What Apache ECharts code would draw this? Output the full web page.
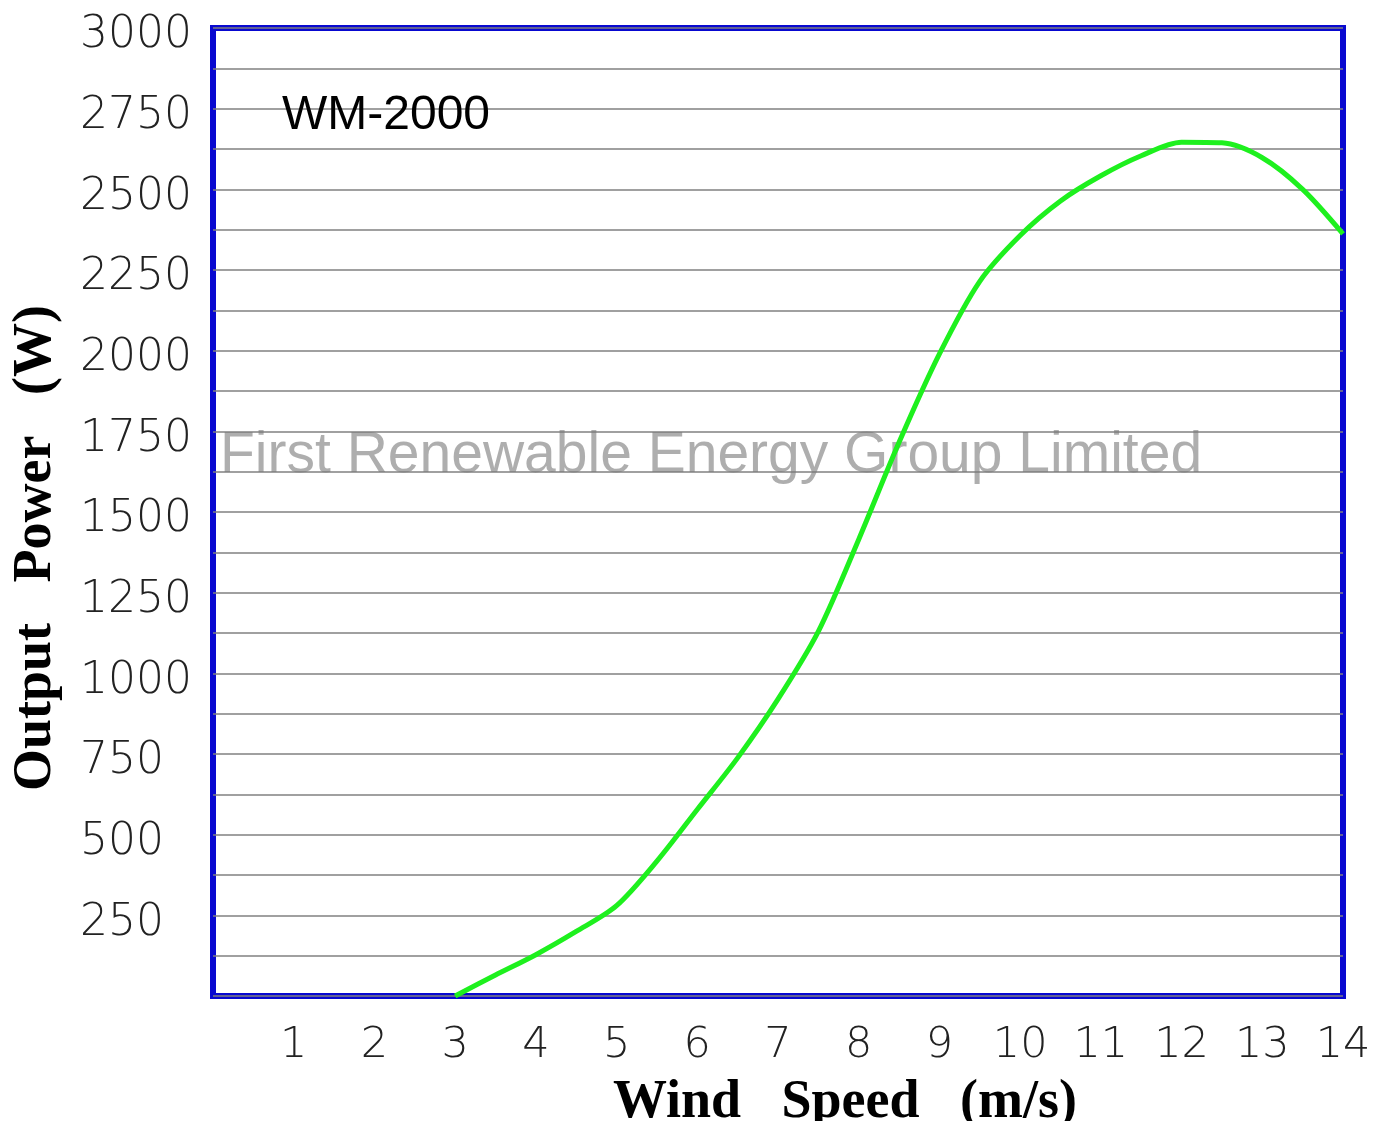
<!DOCTYPE html>
<html>
<head>
<meta charset="utf-8">
<title>WM-2000 power curve</title>
<script src="https://cdn.jsdelivr.net/npm/echarts@6/dist/echarts.min.js"></script>
<style>
  html, body { margin: 0; padding: 0; background: #fff; }
  #chart { width: 1392px; height: 1121px; }
</style>
</head>
<body>
<div id="chart"></div>
<script>
// wind speed (m/s) and output power (W)
const windSpeed = [3, 3.5, 4, 4.5, 5, 5.5, 6, 6.5, 7, 7.5, 8, 8.5, 9, 9.5, 10, 10.5, 11, 11.5, 12, 12.5, 13, 13.5, 14];
const outputPower = [0, 65, 128, 200, 280, 418, 578, 738, 920, 1130, 1415, 1716, 1990, 2215, 2357, 2464, 2542, 2604, 2646, 2644, 2598, 2500, 2362];
const modelName = 'WM-2000';
const watermark = 'First Renewable Energy Group Limited';

const chart = echarts.init(document.getElementById('chart'));

const labelFont = { fontFamily: 'DejaVu Sans', fontWeight: 200, color: '#222' };
const titleFont = { fontFamily: 'Liberation Serif', fontWeight: 'bold', fontSize: 54, color: '#000' };

const option = {
  animation: false,
  backgroundColor: '#fff',
  grid: {
    left: 213, right: 49, top: 28, bottom: 125,
    outerBoundsMode: 'none', containLabel: false,
    show: true, borderColor: '#0808d0', borderWidth: 6, backgroundColor: 'transparent'
  },
  xAxis: {
    type: 'value', min: 0, max: 14, interval: 1,
    name: 'Wind   Speed   (m/s)', nameLocation: 'middle', nameGap: 80,
    nameTextStyle: Object.assign({}, titleFont, { padding: [0, 0, 0, 134] }),
    axisLine: { show: false }, axisTick: { show: false }, splitLine: { show: false },
    axisLabel: Object.assign({}, labelFont, {
      fontSize: 43, margin: 28,
      formatter: (v) => (v === 0 ? '' : String(v))
    })
  },
  yAxis: {
    type: 'value', min: 0, max: 3000, interval: 125,
    name: 'Output   Power   (W)', nameLocation: 'middle', nameGap: 150,
    nameTextStyle: Object.assign({}, titleFont, { padding: [0, 72, 0, 0] }),
    axisLine: { show: false }, axisTick: { show: false },
    splitLine: { show: true, lineStyle: { color: '#808080', width: 1.5 } },
    axisLabel: Object.assign({}, labelFont, {
      fontSize: 44, margin: 133, align: 'left',
      // empty spacer line pushes each label a few pixels below its gridline
      formatter: (v) => (v === 0 || v % 250 !== 0 ? '' : '{s|}\n{n|' + v + '}'),
      rich: {
        s: { height: 16, lineHeight: 16 },
        n: Object.assign({}, labelFont, { fontSize: 44, lineHeight: 48, align: 'left' })
      }
    })
  },
  graphic: [
    {
      type: 'text', left: 282, top: 92, z: 5,
      style: { text: modelName, fontFamily: 'Liberation Sans', fontSize: 48, fill: '#000' }
    },
    {
      type: 'text', left: 220, top: 428, z: 1,
      style: { text: watermark, fontFamily: 'Liberation Sans', fontSize: 57, fill: 'rgba(120,120,120,0.6)' }
    }
  ],
  series: [
    {
      type: 'line', z: 3,
      data: windSpeed.map((w, i) => [w, outputPower[i]]),
      smooth: 0.3, showSymbol: false,
      lineStyle: { color: '#1ef01e', width: 5 }
    }
  ]
};

chart.setOption(option);
</script>
</body>
</html>
